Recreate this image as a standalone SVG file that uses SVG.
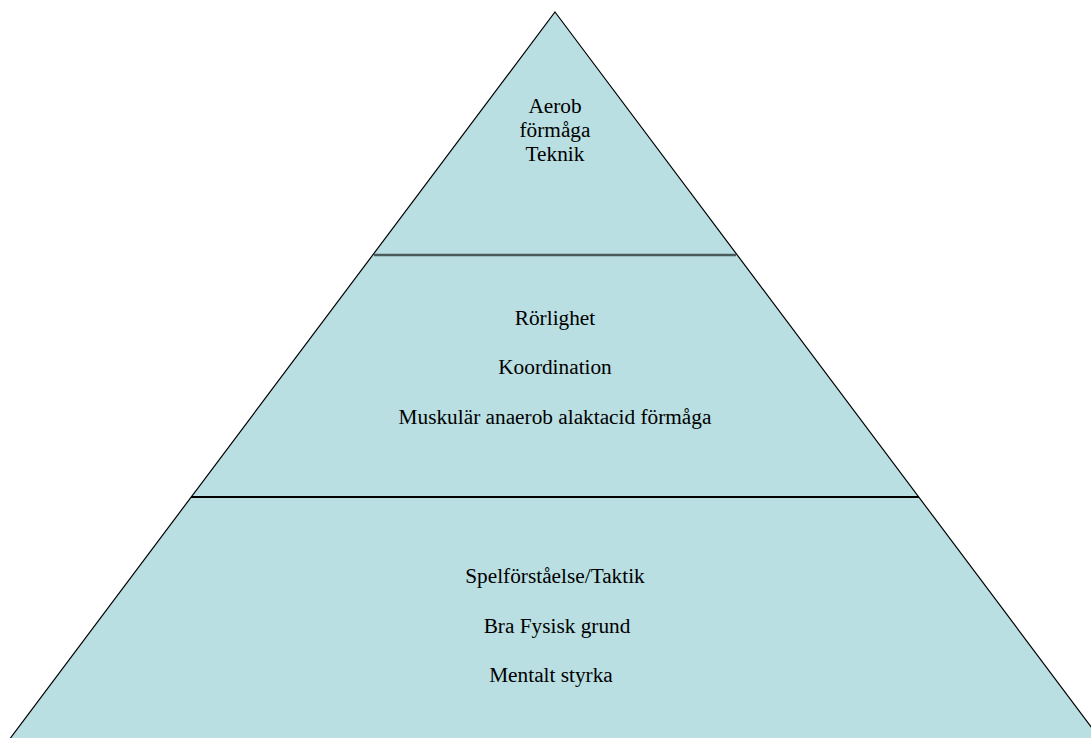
<svg xmlns="http://www.w3.org/2000/svg" width="1091" height="738" viewBox="0 0 1091 738">
<style>
.t{font-family:"Liberation Serif","Times New Roman",serif;font-size:21.3px;fill:#000;text-anchor:middle}
</style>
<rect width="1091" height="738" fill="#fff"/>
<g id="pyramid">
<polygon points="555,12 1116,760 -6,760" fill="#b9dfe2" stroke="#000" stroke-width="1.2"/>
</g>
<g id="connectors">
<line x1="374" y1="255" x2="736" y2="255" stroke="#4b5b5b" stroke-width="2.5"/>
<line x1="191" y1="497" x2="919" y2="497" stroke="#000" stroke-width="2"/>
</g>
<g id="top">
<text class="t" x="555" y="113">Aerob</text>
<text class="t" x="555" y="137">förmåga</text>
<text class="t" x="555" y="161">Teknik</text>
</g>
<g id="middle">
<text class="t" x="555" y="325">Rörlighet</text>
<text class="t" x="555" y="374">Koordination</text>
<text class="t" x="555" y="424">Muskulär anaerob alaktacid förmåga</text>
</g>
<g id="bottom">
<text class="t" x="555" y="583">Spelförståelse/Taktik</text>
<text class="t" x="557" y="633">Bra Fysisk grund</text>
<text class="t" x="551" y="682">Mentalt styrka</text>
</g>
</svg>
